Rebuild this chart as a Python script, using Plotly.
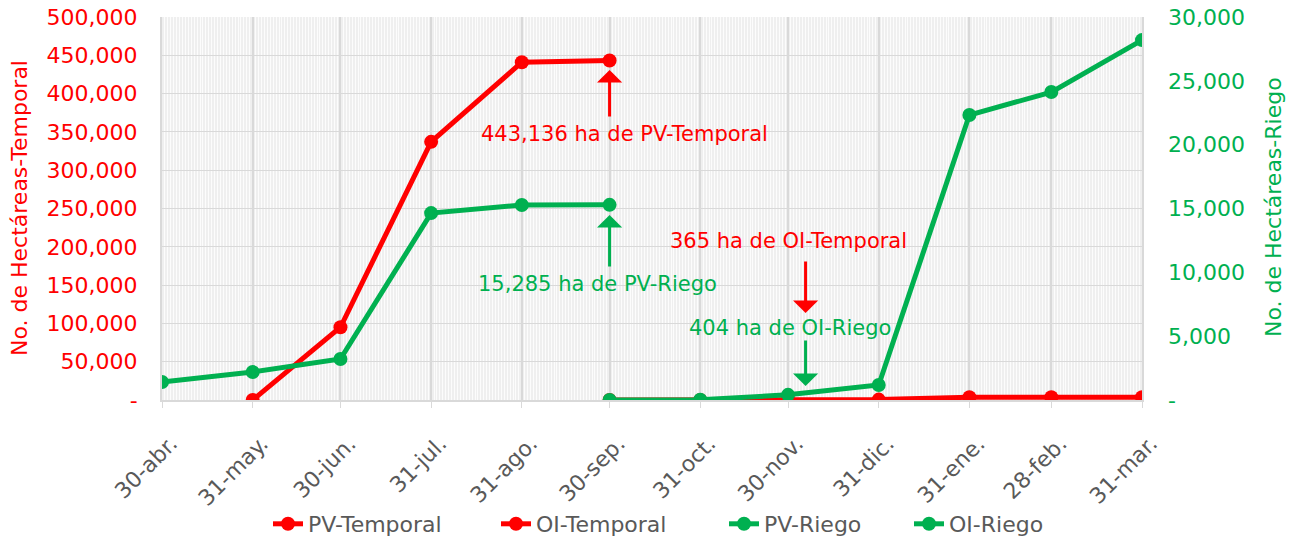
import plotly.graph_objects as go

dates = ["2022-04-30", "2022-05-31", "2022-06-30", "2022-07-31", "2022-08-31", "2022-09-30",
         "2022-10-31", "2022-11-30", "2022-12-31", "2023-01-31", "2023-02-28", "2023-03-31"]
tick_labels = ["30-abr.", "31-may.", "30-jun.", "31-jul.", "31-ago.", "30-sep.",
               "31-oct.", "30-nov.", "31-dic.", "31-ene.", "28-feb.", "31-mar."]

pv_temporal = [None, 0, 95000, 337000, 441000, 443136, None, None, None, None, None, None]
oi_temporal = [None, None, None, None, None, 0, 50, 365, 500, 3600, 3700, 3700]
pv_riego = [1410, 2190, 3210, 14640, 15270, 15285, None, None, None, None, None, None]
oi_riego = [None, None, None, None, None, 0, 20, 404, 1180, 22320, 24120, 28190]

RED = "#ff0000"
GREEN = "#00b050"
GREY = "#595959"
FONT = "DejaVu Sans"

# body margin is removed by post_script, so figure px == screen px
OFF = 0
PL, PR, PT, PB = 162 - OFF, 1142 - OFF, 17 - OFF, 400 - OFF
W, H = 1295, 537

def px_x(sx):
    return (sx - OFF - PL) / (PR - PL)

def px_y(sy):
    return (PB - (sy - OFF)) / (PB - PT)

fig = go.Figure()
legend_ids = ["legend", "legend2", "legend3", "legend4"]
for name, vals, color, ax, lg in [("PV-Temporal", pv_temporal, RED, "y", "legend"),
                                  ("OI-Temporal", oi_temporal, RED, "y", "legend2"),
                                  ("PV-Riego", pv_riego, GREEN, "y2", "legend3"),
                                  ("OI-Riego", oi_riego, GREEN, "y2", "legend4")]:
    fig.add_trace(go.Scatter(x=dates, y=vals, name=name, mode="lines+markers",
                             line=dict(color=color, width=5),
                             marker=dict(color=color, size=14), yaxis=ax, legend=lg))

left_vals = list(range(0, 500001, 50000))
left_text = ["-"] + [f"{v:,}" for v in left_vals[1:]]
right_vals = list(range(0, 30001, 5000))
right_text = ["-"] + [f"{v:,}" for v in right_vals[1:]]

leg_common = dict(orientation="h", yanchor="middle", xanchor="left",
                  font=dict(size=22, color=GREY), bgcolor="rgba(0,0,0,0)")
legend_text_x = [309, 537, 765, 950]
legends = {}
for lg, tx in zip(legend_ids, legend_text_x):
    legends[lg] = dict(x=px_x(tx - 41), y=px_y(524), **leg_common)

fig.update_layout(
    width=W, height=H,
    margin=dict(l=PL, r=W - PR, t=PT, b=H - PB, autoexpand=False),
    paper_bgcolor="white",
    plot_bgcolor="#efefef",
    font=dict(family=FONT, color=GREY, size=20),
    showlegend=True,
    xaxis=dict(
        type="date", range=["2022-04-30", "2023-03-31"], automargin=False,
        tickvals=dates, ticktext=tick_labels, tickangle=-45,
        tickfont=dict(size=22, color=GREY),
        showgrid=True, gridcolor="#d9d9d9", gridwidth=2,
        minor=dict(dtick=86400000, showgrid=True, gridcolor="#fcfcfc", gridwidth=1),
        ticks="outside", ticklen=6, tickcolor="#d9d9d9",
        showline=True, linecolor="#d9d9d9", linewidth=2, mirror=False,
        zeroline=False, ticklabelstandoff=14, ticklabelshift=9,
    ),
    yaxis=dict(
        range=[0, 500000], tickvals=left_vals, ticktext=left_text, automargin=False,
        tickfont=dict(size=22, color=RED), ticklabeloverflow="allow",
        showgrid=True, gridcolor="#d9d9d9", gridwidth=1, zeroline=False,
        showline=True, linecolor="#d9d9d9", linewidth=2, mirror=True,
        ticks="", ticklabelstandoff=18,
    ),
    yaxis2=dict(
        range=[0, 30000], tickvals=right_vals, ticktext=right_text, automargin=False,
        overlaying="y", side="right", ticklabeloverflow="allow",
        tickfont=dict(size=22, color=GREEN),
        showgrid=False, zeroline=False, ticks="", ticklabelstandoff=25,
    ),
    **legends,
)

# axis titles
fig.add_annotation(text="No. de Hectáreas-Temporal", x=px_x(19), y=px_y(208),
                   xref="paper", yref="paper", showarrow=False, textangle=-90,
                   font=dict(size=22, color=RED, family=FONT),
                   xanchor="center", yanchor="middle")
fig.add_annotation(text="No. de Hectáreas-Riego", x=px_x(1273), y=px_y(207),
                   xref="paper", yref="paper", showarrow=False, textangle=-90,
                   font=dict(size=22, color=GREEN, family=FONT),
                   xanchor="center", yanchor="middle")

arrow_common = dict(showarrow=True, arrowhead=1, arrowsize=1.4, arrowwidth=3, text="",
                    axref="pixel", ayref="pixel", ax=0)
fig.add_annotation(x="2022-09-30", y=430800, xref="x", yref="y", ay=48,
                   arrowcolor=RED, **arrow_common)
fig.add_annotation(x="2022-09-30", y=14490, xref="x", yref="y2", ay=53,
                   arrowcolor=GREEN, **arrow_common)
fig.add_annotation(x="2022-12-06", y=113600, xref="x", yref="y", ay=-53,
                   arrowcolor=RED, **arrow_common)
fig.add_annotation(x="2022-12-06", y=1096, xref="x", yref="y2", ay=-47,
                   arrowcolor=GREEN, **arrow_common)

def label(text, sx, sy, color):
    fig.add_annotation(text=text, x=px_x(sx), y=px_y(sy),
                       xref="paper", yref="paper", showarrow=False,
                       font=dict(size=21, color=color, family=FONT),
                       xanchor="center", yanchor="middle")

label("443,136 ha de PV-Temporal", 624.5, 134, RED)
label("15,285 ha de PV-Riego", 597, 284, GREEN)
label("365 ha de OI-Temporal", 788.5, 241, RED)
label("404 ha de OI-Riego", 790, 328, GREEN)

fig.write_html("out.html", post_script="document.body.style.margin='0px';",
               config={"displayModeBar": False})
